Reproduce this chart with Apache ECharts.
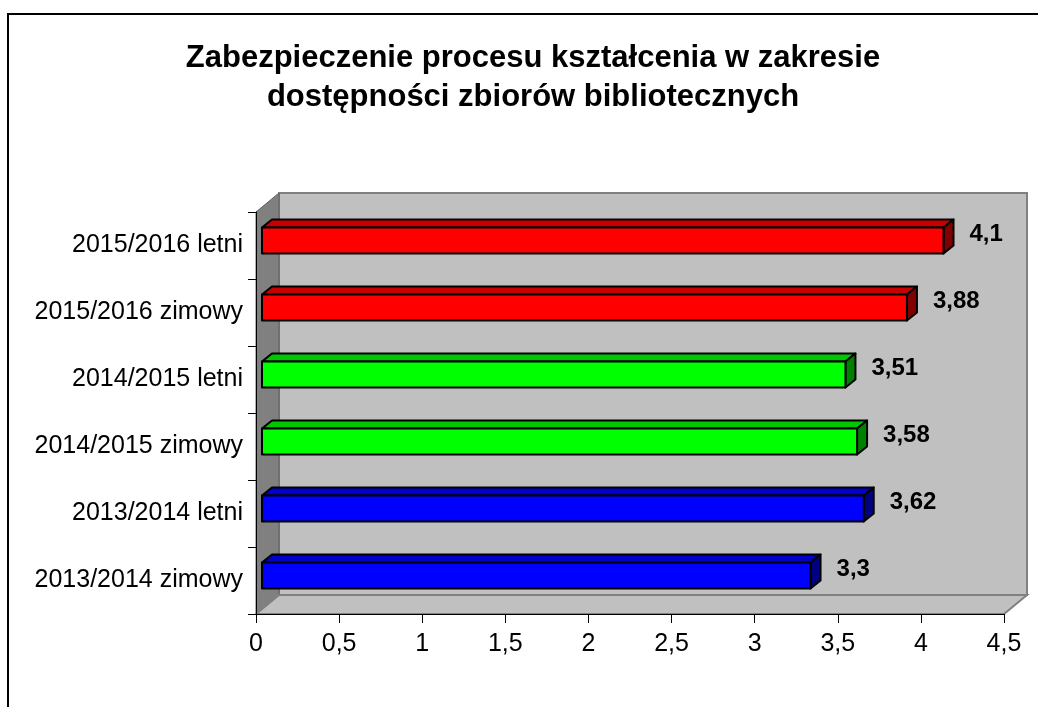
<!DOCTYPE html>
<html>
<head>
<meta charset="utf-8">
<script src="https://cdn.jsdelivr.net/npm/echarts@6/dist/echarts.min.js"></script>
<style>
  html, body { margin: 0; padding: 0; background: #fff; }
  #chart { width: 1038px; height: 707px; }
</style>
</head>
<body>
<div id="chart"></div>
<script>
// dane z wykresu (od dołu do góry)
const categories = [
  '2013/2014 zimowy',
  '2013/2014 letni',
  '2014/2015 zimowy',
  '2014/2015 letni',
  '2015/2016 zimowy',
  '2015/2016 letni'
];
const values = [3.3, 3.62, 3.58, 3.51, 3.88, 4.1];
const yearGroup = ['2013/2014', '2013/2014', '2014/2015', '2014/2015', '2015/2016', '2015/2016'];
const xTicks = [0, 0.5, 1, 1.5, 2, 2.5, 3, 3.5, 4, 4.5];

// kolory słupków: przód, góra, bok
const palette = {
  '2013/2014': ['#0000FF', '#0000C8', '#000080'],
  '2014/2015': ['#00FF00', '#00C800', '#008000'],
  '2015/2016': ['#FF0000', '#C80000', '#800000']
};

const FONT = '"Liberation Sans", Arial, sans-serif';
const grid = { left: 256, top: 212, right: 1004, bottom: 614 };
const depth = [23, -19]; // przesunięcie tylnej ściany

const myChart = echarts.init(document.getElementById('chart'));

function fmt(v) {
  return String(v).replace('.', ',');
}

const option = {
  animation: false,
  title: {
    text: 'Zabezpieczenie procesu kształcenia w zakresie\ndostępności zbiorów bibliotecznych',
    left: 528,
    top: 34,
    textAlign: 'center',
    textStyle: {
      fontFamily: FONT,
      fontWeight: 'bold',
      fontSize: 31,
      lineHeight: 39,
      color: '#000'
    }
  },
  grid: {
    left: grid.left,
    top: grid.top,
    width: grid.right - grid.left,
    height: grid.bottom - grid.top
  },
  xAxis: {
    type: 'value',
    min: 0,
    max: 4.5,
    interval: 0.5,
    z: 5,
    axisLine: { show: true, lineStyle: { color: '#000', width: 1 } },
    axisTick: { show: true, length: 9, lineStyle: { color: '#000' } },
    splitLine: { show: false },
    axisLabel: {
      margin: 18,
      fontFamily: FONT,
      fontSize: 25,
      color: '#000',
      formatter: fmt,
      customValues: xTicks
    }
  },
  yAxis: {
    type: 'category',
    data: categories,
    z: 5,
    axisLine: { show: true, lineStyle: { color: '#000', width: 1 } },
    axisTick: { show: true, length: 8, lineStyle: { color: '#000' } },
    axisLabel: {
      margin: 13,
      fontFamily: FONT,
      fontSize: 25,
      color: '#000'
    }
  },
  graphic: [
    // ramka wykresu
    {
      type: 'rect', z: -20,
      shape: { x: 8, y: 14, width: 1100, height: 800 },
      style: { fill: '#fff', stroke: '#000', lineWidth: 2 }
    },
    // tylna ściana
    {
      type: 'rect', z: -10,
      shape: {
        x: grid.left + depth[0], y: grid.top + depth[1],
        width: grid.right - grid.left, height: grid.bottom - grid.top
      },
      style: { fill: '#C0C0C0', stroke: '#808080', lineWidth: 2 }
    },
    // lewa ściana
    {
      type: 'polygon', z: -9,
      shape: {
        points: [
          [grid.left, grid.top],
          [grid.left + depth[0], grid.top + depth[1]],
          [grid.left + depth[0], grid.bottom + depth[1]],
          [grid.left, grid.bottom]
        ]
      },
      style: { fill: '#808080', stroke: '#606060', lineWidth: 1 }
    },
    // podłoga
    {
      type: 'polygon', z: -9,
      shape: {
        points: [
          [grid.left, grid.bottom],
          [grid.left + depth[0], grid.bottom + depth[1]],
          [grid.right + depth[0], grid.bottom + depth[1]],
          [grid.right, grid.bottom]
        ]
      },
      style: { fill: '#C0C0C0', stroke: '#808080', lineWidth: 2 }
    }
  ],
  series: [
    {
      type: 'custom',
      z: 10,
      data: values.map((v, i) => [v, i]),
      encode: { x: 0, y: 1 },
      renderItem(params, api) {
        const v = api.value(0);
        const cat = api.value(1);
        const start = api.coord([0, cat]);
        const end = api.coord([v, cat]);
        const band = api.size([0, 1])[1];
        const h = band * 0.39;
        const fx = 6, fy = -5;   // przód słupka
        const dx = 10, dy = -8;  // głębokość słupka
        const x0 = start[0] + fx;
        const x1 = end[0] + fx;
        const y0 = start[1] + fy - h / 2;
        const y1 = y0 + h;
        const c = palette[yearGroup[params.dataIndex]];
        const stroke = { stroke: '#000', lineWidth: 2, lineJoin: 'round' };
        return {
          type: 'group',
          children: [
            {
              type: 'polygon',
              shape: { points: [[x0, y0], [x1, y0], [x1 + dx, y0 + dy], [x0 + dx, y0 + dy]] },
              style: Object.assign({ fill: c[1] }, stroke)
            },
            {
              type: 'polygon',
              shape: { points: [[x1, y0], [x1 + dx, y0 + dy], [x1 + dx, y1 + dy], [x1, y1]] },
              style: Object.assign({ fill: c[2] }, stroke)
            },
            {
              type: 'rect',
              shape: { x: x0, y: y0, width: x1 - x0, height: h },
              style: Object.assign({ fill: c[0] }, stroke)
            },
            {
              type: 'text',
              x: x1 + dx + 16,
              y: (y0 + y1) / 2 - 6,
              style: {
                text: fmt(v),
                fontFamily: FONT,
                fontWeight: 'bold',
                fontSize: 24,
                fill: '#000',
                verticalAlign: 'middle',
                align: 'left'
              }
            }
          ]
        };
      }
    }
  ]
};

myChart.setOption(option);
</script>
</body>
</html>
